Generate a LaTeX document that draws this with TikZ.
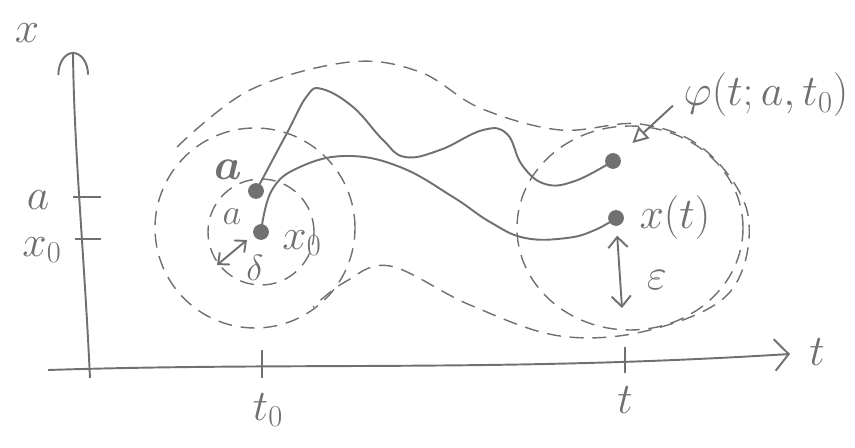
\documentclass[tikz,border=0pt]{standalone}
\usepackage{amsmath}
\usetikzlibrary{arrows.meta}
\definecolor{pencil}{RGB}{112,112,112}

\begin{document}
\begin{tikzpicture}[x=0.02cm, y=0.02cm, line width=1.1pt, color=pencil,
  lbl/.style={inner sep=1pt, font=\fontsize{24}{28}\selectfont},
  small/.style={inner sep=1pt, font=\fontsize{22}{26}\selectfont},
  blob/.style={circle, fill=pencil, minimum size=9pt, inner sep=0pt},
  tube/.style={dash pattern=on 8pt off 5pt, line width=0.8pt},
  barb/.tip={Straight Barb[length=6pt, width=11pt]}]
\useasboundingbox (0,0) rectangle (855,-448);
% axes
\node[lbl] (xlbl) at (27,-33) {$x$};
\node[lbl] (tlbl) at (817,-352) {$t$};
\coordinate (xbot) at (90,-378);
\coordinate (xtop) at (73,-52);
\coordinate (tleft) at (48,-370);
\coordinate (tright) at (790,-354);
\draw[-{Arc Barb[length=13pt, width=18pt]}] (xbot) .. controls (84,-250) and (74,-150) .. (xtop);
\draw[-{Straight Barb[length=8pt, width=18pt]}] (tleft) .. controls (300,-362) and (500,-372) .. (tright);
\node[lbl] (alb) at (38,-200) {$a$};
\node[lbl] (x0lb) at (42,-250) {$x_0$};
\draw (73,-197) -- (101,-197);
\draw (75,-239) -- (101,-239);
\draw (262,-350) -- (262,-378);
\draw (625,-347) -- (625,-373);
\node[lbl] (t0lb) at (268,-410) {$t_0$};
\node[lbl] (tlb) at (625,-400) {$t$};
% points
\node[blob] (pa) at (256,-191) {};
\node[blob] (px0) at (261,-232) {};
\node[blob] (pphi) at (613,-161) {};
\node[blob] (pxt) at (616,-218) {};
% tubes
\draw[tube] (px0) circle[radius=53];
\draw[tube] (255,-228) circle[radius=100];
\draw[tube] (630,-228) ellipse[x radius=113, y radius=102];
\draw[tube] plot[smooth, tension=0.6] coordinates {(177,-147) (250,-90) (350,-62) (420,-72) (480,-108) (560,-130) (640,-124) (705,-150) (748,-215) (730,-292) (650,-330) (560,-336) (470,-305) (390,-266) (345,-282) (313,-307)};
% solutions
\draw plot[smooth, tension=0.7] coordinates {(pa) (287,-133) (307,-96) (322,-89) (353,-107) (383,-140) (405,-157) (440,-150) (483,-130) (507,-134) (522,-165) (545,-184) (575,-181) (pphi)};
\draw plot[smooth, tension=0.7] coordinates {(px0) (272,-190) (300,-167) (347,-156) (400,-167) (453,-197) (490,-222) (525,-238) (567,-238) (595,-230) (pxt)};
% labels
\node[lbl, font=\fontsize{26}{30}\selectfont\boldmath] (abold) at (228,-170) {$a$};
\node[small] (alo) at (232,-217) {$a$};
\node[lbl] (x0lo) at (302,-243) {$x_0$};
\node[small] (dlb) at (255,-268) {$\delta$};
\coordinate (dA) at (217,-265);
\coordinate (dB) at (247,-240);
\draw[{Straight Barb[length=5pt, width=9pt]}-{Straight Barb[length=5pt, width=9pt]}] (dA) -- (dB);
\node[lbl] (xtlb) at (675,-218) {$x(t)$};
\node[lbl] (philb) at (766,-95) {$\varphi(t;a,t_0)$};
\draw[-{Triangle[open, length=9pt, width=9pt]}, shorten >=10pt] ([shift={(-8,14)}]philb.south west) -- (pphi);
\coordinate (epsbot) at (622,-308);
\draw[barb-barb, shorten <=5pt] (pxt) -- (epsbot);
\node[lbl] (epslb) at (657,-280) {$\varepsilon$};
\end{tikzpicture}
\end{document}
